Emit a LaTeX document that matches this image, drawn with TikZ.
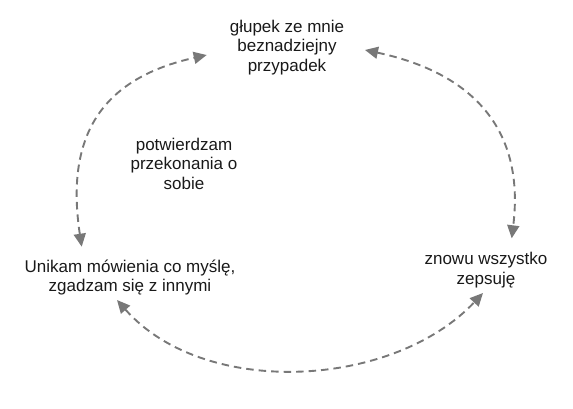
\documentclass[tikz,border=0pt]{standalone}
\usepackage{fontspec}
\setmainfont{Liberation Sans}
\usetikzlibrary{arrows.meta}
\definecolor{arrowgray}{RGB}{120,120,120}

\begin{document}
\begin{tikzpicture}[x=1pt,y=1pt,
  txt/.style={align=center, font=\fontsize{17}{19.4}\selectfont, inner sep=2pt, text=black!90},
  cyclearrow/.style={arrowgray, line width=1.9pt, dash pattern=on 7.5pt off 5pt,
    {Triangle[length=13pt,width=12pt]}-{Triangle[length=13pt,width=12pt]}}]
\useasboundingbox (0,0) rectangle (573,408);

% texts
\node[txt] (glupek) at (287,360.6) {głupek ze mnie\\beznadziejny\\przypadek};
\node[txt] (potwierdzam) at (184,244.2) {potwierdzam\\przekonania o\\sobie};
\node[txt] (unikam) at (130,130.5) {Unikam mówienia co myślę,\\zgadzam się z innymi};
\node[txt] (zepsuje) at (486,137.7) {znowu wszystko\\zepsuję};

% left arc
\draw[cyclearrow] ([shift={(-48.3,30.8)}]unikam.center)
  .. controls +(-16.3,108.8) and +(-107.3,-24) .. ([shift={(-80.3,-7.6)}]glupek.center);
% right arc
\draw[cyclearrow] ([shift={(78,-2.6)}]glupek.center)
  .. controls +(107.6,-22.9) and +(13.4,109.2) .. ([shift={(25.7,32)}]zepsuje.center);
% bottom arc
\draw[cyclearrow] ([shift={(-13,-22.5)}]unikam.center)
  .. controls +(86.9,-98.6) and +(-90.2,-95.7) .. ([shift={(-3,-22.7)}]zepsuje.center);

\end{tikzpicture}
\end{document}
